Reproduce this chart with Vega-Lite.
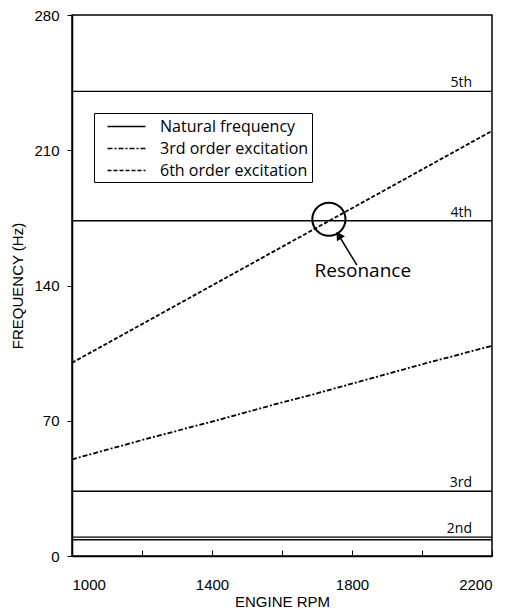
{
  "$schema": "https://vega.github.io/schema/vega-lite/v6.json",
  "width": 420,
  "height": 541,
  "autosize": {"type": "none"},
  "padding": {"left": 72, "top": 15, "right": 25, "bottom": 58},
  "background": "white",
  "config": {
    "view": {"stroke": "black", "strokeWidth": 1.5},
    "font": "Liberation Sans",
    "axis": {"grid": false, "domainColor": "black", "domainWidth": 1.5, "tickColor": "black", "labelColor": "black", "titleColor": "black", "labelFont": "Liberation Sans", "titleFont": "Liberation Sans", "labelFontSize": 15, "titleFontSize": 15, "titleFontWeight": "normal"}
  },
  "datasets": {
    "natural": [
      {"series": "Natural frequency", "mode": "5th", "freq": 240.5, "label": "5th"},
      {"series": "Natural frequency", "mode": "4th", "freq": 173.5, "label": "4th"},
      {"series": "Natural frequency", "mode": "3rd", "freq": 33.5, "label": "3rd"},
      {"series": "Natural frequency", "mode": "2nd-a", "freq": 9.8, "label": "2nd"},
      {"series": "Natural frequency", "mode": "2nd-b", "freq": 8.4, "label": ""}
    ],
    "excitation": [
      {"series": "3rd order excitation", "rpm": 1000, "freq": 50},
      {"series": "3rd order excitation", "rpm": 1100, "freq": 55},
      {"series": "3rd order excitation", "rpm": 1200, "freq": 60},
      {"series": "3rd order excitation", "rpm": 1300, "freq": 64.8},
      {"series": "3rd order excitation", "rpm": 1400, "freq": 69.5},
      {"series": "3rd order excitation", "rpm": 1500, "freq": 74.5},
      {"series": "3rd order excitation", "rpm": 1600, "freq": 79.5},
      {"series": "3rd order excitation", "rpm": 1700, "freq": 84.2},
      {"series": "3rd order excitation", "rpm": 1800, "freq": 89.2},
      {"series": "3rd order excitation", "rpm": 1900, "freq": 94.2},
      {"series": "3rd order excitation", "rpm": 2000, "freq": 99.2},
      {"series": "3rd order excitation", "rpm": 2100, "freq": 104},
      {"series": "3rd order excitation", "rpm": 2200, "freq": 108.8},
      {"series": "6th order excitation", "rpm": 1000, "freq": 100},
      {"series": "6th order excitation", "rpm": 1100, "freq": 110},
      {"series": "6th order excitation", "rpm": 1200, "freq": 120},
      {"series": "6th order excitation", "rpm": 1300, "freq": 130},
      {"series": "6th order excitation", "rpm": 1400, "freq": 140},
      {"series": "6th order excitation", "rpm": 1500, "freq": 150},
      {"series": "6th order excitation", "rpm": 1600, "freq": 160},
      {"series": "6th order excitation", "rpm": 1700, "freq": 170},
      {"series": "6th order excitation", "rpm": 1800, "freq": 180},
      {"series": "6th order excitation", "rpm": 1900, "freq": 190},
      {"series": "6th order excitation", "rpm": 2000, "freq": 200},
      {"series": "6th order excitation", "rpm": 2100, "freq": 210},
      {"series": "6th order excitation", "rpm": 2200, "freq": 220}
    ],
    "resonance": [
      {"rpm": 1734, "freq": 174.3, "tailRpm": 1814, "tailFreq": 150.5, "headRpm": 1762, "headFreq": 166, "textRpm": 1693, "textFreq": 144.5, "text": "Resonance"}
    ]
  },
  "layer": [
    {
      "data": {"name": "natural"},
      "mark": {"type": "rule", "color": "black", "strokeWidth": 1.3},
      "encoding": {
        "y": {"field": "freq", "type": "quantitative", "scale": {"domain": [0, 280], "nice": false, "zero": false},
              "axis": {"values": [0, 70, 140, 210, 280], "tickSize": 5, "labelPadding": 8, "title": "FREQUENCY (Hz)", "titlePadding": 8}},
        "detail": {"field": "mode"},
        "strokeDash": {"field": "series", "type": "nominal",
          "scale": {"domain": ["Natural frequency", "3rd order excitation", "6th order excitation"], "range": [[1, 0], [5, 2, 2, 2], [4, 2]]},
          "legend": {"title": null, "orient": "none", "legendX": 22, "legendY": 98, "strokeColor": "black", "padding": 3, "symbolType": "M0,0H4", "symbolStrokeWidth": 1.3, "symbolStrokeColor": "black", "symbolFillColor": "transparent", "symbolSize": 361, "labelFont": "Open Sans", "labelFontSize": 16, "labelColor": "black", "labelLimit": 300, "rowPadding": 3, "labelOffset": 42, "labelExpr": "datum.label + '\u00a0\u00a0\u00a0'"}
        }
      }
    },
    {
      "data": {"name": "excitation"},
      "mark": {"type": "line", "color": "black", "strokeWidth": 1.8},
      "encoding": {
        "x": {"field": "rpm", "type": "quantitative", "scale": {"domain": [1000, 2200], "nice": false, "zero": false},
              "axis": {"values": [1000, 1200, 1400, 1600, 1800, 2000, 2200], "format": "d", "tickSize": -6, "labelPadding": 27, "labelExpr": "(datum.value - 1000) % 400 == 0 ? datum.label : ''", "title": "ENGINE RPM", "titlePadding": 2}},
        "y": {"field": "freq", "type": "quantitative"},
        "strokeDash": {"field": "series", "type": "nominal"}
      }
    },
    {
      "data": {"name": "natural"},
      "transform": [{"filter": "datum.label != ''"}],
      "mark": {"type": "text", "align": "right", "baseline": "bottom", "dx": -20, "dy": -1, "font": "Open Sans", "fontSize": 14, "color": "black"},
      "encoding": {
        "x": {"datum": 2200},
        "y": {"field": "freq", "type": "quantitative"},
        "text": {"field": "label"}
      }
    },
    {
      "data": {"name": "resonance"},
      "mark": {"type": "point", "shape": "circle", "size": 1100, "filled": false, "stroke": "black", "strokeWidth": 2, "opacity": 1},
      "encoding": {
        "x": {"field": "rpm", "type": "quantitative"},
        "y": {"field": "freq", "type": "quantitative"}
      }
    },
    {
      "data": {"name": "resonance"},
      "mark": {"type": "rule", "color": "black", "strokeWidth": 1.5},
      "encoding": {
        "x": {"field": "tailRpm", "type": "quantitative"},
        "y": {"field": "tailFreq", "type": "quantitative"},
        "x2": {"field": "headRpm"},
        "y2": {"field": "headFreq"}
      }
    },
    {
      "data": {"name": "resonance"},
      "mark": {"type": "point", "shape": "triangle-up", "filled": true, "color": "black", "size": 90, "angle": 327, "opacity": 1},
      "encoding": {
        "x": {"field": "headRpm", "type": "quantitative"},
        "y": {"field": "headFreq", "type": "quantitative"}
      }
    },
    {
      "data": {"name": "resonance"},
      "mark": {"type": "text", "align": "left", "baseline": "alphabetic", "font": "Open Sans", "fontSize": 19, "color": "black"},
      "encoding": {
        "x": {"field": "textRpm", "type": "quantitative"},
        "y": {"field": "textFreq", "type": "quantitative"},
        "text": {"field": "text"}
      }
    }
  ]
}
